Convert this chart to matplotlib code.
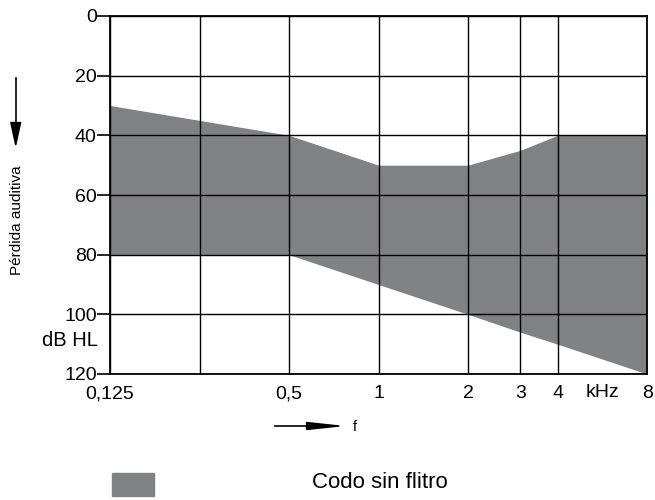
import matplotlib.pyplot as plt
import numpy as np
from matplotlib.patches import Rectangle

plt.rcParams['font.family'] = ['Liberation Sans', 'DejaVu Sans']

# frecuencias (kHz) y limites de la zona sombreada (dB HL)
freqs = [0.125, 0.25, 0.5, 1, 2, 3, 4, 8]
upper = [30, 35, 40, 50, 50, 45, 40, 40]
lower = [80, 80, 80, 90, 100, 106, 110, 120]

xticks = [0.125, 0.5, 1, 2, 3, 4, 8]
xtick_labels = ['0,125', '0,5', '1', '2', '3', '4', '8']
grid_x = [0.125, 0.25, 0.5, 1, 2, 3, 4, 8]
yticks = [0, 20, 40, 60, 80, 100, 120]

fill_color = '#808184'

fig = plt.figure(figsize=(6.55, 5), dpi=100)
ax = fig.add_axes([0.168, 0.252, 0.820, 0.716])

ax.fill_between(freqs, upper, lower, color=fill_color, lw=0, zorder=1)

ax.set_xscale('log')
ax.set_xlim(0.125, 8)
ax.set_ylim(120, 0)

for gx in grid_x:
    ax.axvline(gx, color='black', lw=1, zorder=2)
for gy in yticks:
    ax.axhline(gy, color='black', lw=1, zorder=2)

ax.set_yticks(yticks)
ax.set_yticklabels([str(v) for v in yticks], fontsize=14)
ax.tick_params(axis='y', length=9.5, width=1.2, pad=0)

ax.set_xticks(xticks)
ax.set_xticklabels(xtick_labels, fontsize=14)
ax.xaxis.set_minor_locator(plt.NullLocator())
ax.tick_params(axis='x', length=0, pad=8)

for s in ax.spines.values():
    s.set_linewidth(1.3)
    s.set_zorder(3)

ax.text(np.sqrt(4 * 8), -0.029, 'kHz', transform=ax.get_xaxis_transform(),
        ha='center', va='top', fontsize=14)

# etiquetas de los ejes
fig.text(0.149, 0.32, 'dB HL', ha='right', va='center', fontsize=14.5)
fig.text(0.026, 0.56, 'Pérdida auditiva', rotation=90, ha='center', va='center', fontsize=11)
fig.add_artist(plt.Line2D([0.024, 0.024], [0.845, 0.74], color='black', lw=1.2))
fig.patches.append(plt.Polygon([[0.0165, 0.755], [0.0315, 0.755], [0.024, 0.71]],
                               closed=True, color='black', transform=fig.transFigure))

fig.add_artist(plt.Line2D([0.42, 0.49], [0.148, 0.148], color='black', lw=1.2))
fig.patches.append(plt.Polygon([[0.468, 0.141], [0.468, 0.155], [0.518, 0.148]],
                               closed=True, color='black', transform=fig.transFigure))
fig.text(0.542, 0.146, 'f', ha='center', va='center', fontsize=10.5)

# leyenda
fig.patches.append(Rectangle((0.171, 0.008), 0.064, 0.046, color=fill_color,
                             transform=fig.transFigure))
fig.text(0.477, 0.036, 'Codo sin flitro', ha='left', va='center', fontsize=16)

fig.savefig('out.png', dpi=100)
